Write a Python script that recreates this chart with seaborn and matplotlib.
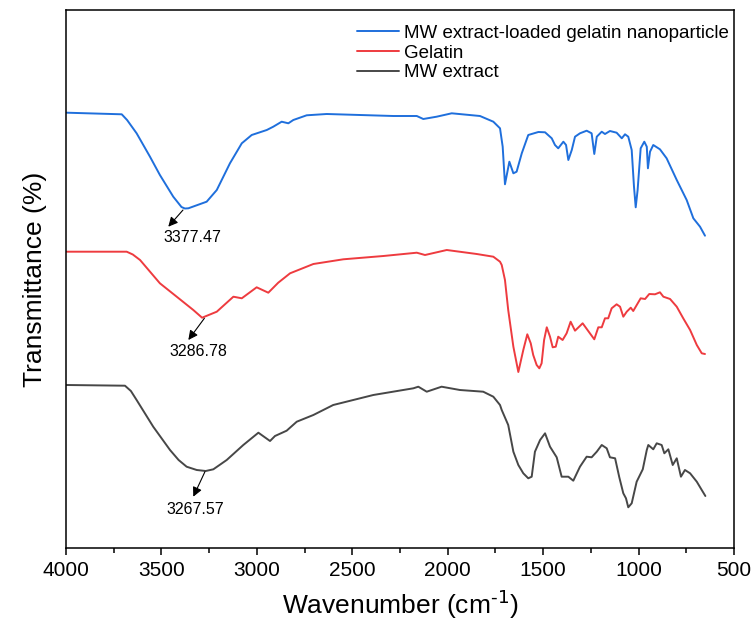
import matplotlib
matplotlib.use("Agg")
import matplotlib.pyplot as plt
import seaborn as sns
import pandas as pd

# FTIR spectra (wavenumber in cm-1, transmittance in offset arbitrary units)
nano_wn = [3996, 3708, 3680, 3630, 3560, 3508, 3438, 3395, 3377, 3359, 3263, 3210, 3141, 3079, 3027,
           2948, 2914, 2870, 2835, 2809, 2739, 2634, 2285, 2162, 2128, 2058, 1979, 1831, 1761,
           1726, 1712, 1700, 1677, 1656, 1639, 1612, 1578, 1525, 1490, 1455, 1438, 1421, 1394,
           1380, 1368, 1350, 1333, 1307, 1272, 1246, 1232, 1219, 1193, 1176, 1150, 1115, 1088,
           1071, 1054, 1036, 1024, 1015, 1005, 989, 970, 957, 951, 940, 923, 888, 853, 800,
           748, 713, 678, 652]
nano_t = [435.3, 433.7, 428.0, 414.7, 391.3, 373.0, 351.3, 341.0, 339.5, 339.7, 346.3, 358.0, 384.7,
          404.7, 413.0, 418.0, 421.3, 426.3, 424.7, 428.0, 432.7, 434.0, 432.0, 432.0, 429.0,
          431.3, 434.7, 432.0, 426.3, 419.7, 401.3, 363.7, 386.3, 374.7, 376.3, 394.7, 413.0,
          416.0, 415.7, 409.7, 403.0, 399.7, 406.3, 403.0, 388.0, 398.0, 411.3, 414.7, 417.3,
          414.7, 394.0, 411.3, 416.3, 414.0, 417.0, 415.3, 409.7, 413.7, 411.3, 398.0, 361.3,
          340.7, 358.0, 399.7, 406.3, 401.3, 379.7, 396.3, 403.0, 398.7, 389.7, 368.0, 348.0,
          329.7, 321.3, 312.3]

gel_wn = [3996, 3682, 3650, 3612, 3508, 3420, 3333, 3287, 3210, 3123, 3079, 3001, 2940, 2888, 2826,
          2704, 2547, 2337, 2162, 2119, 2005, 1848, 1761, 1726, 1717, 1700, 1683, 1656, 1630,
          1604, 1583, 1565, 1552, 1534, 1520, 1508, 1495, 1481, 1464, 1450, 1434, 1421, 1398,
          1377, 1356, 1333, 1293, 1255, 1232, 1211, 1193, 1176, 1159, 1141, 1115, 1097, 1080,
          1062, 1041, 1028, 989, 966, 944, 914, 888, 870, 835, 800, 766, 730, 695, 669, 652]
gel_t = [296.3, 296.3, 293.5, 288.0, 264.7, 251.3, 238.0, 230.3, 236.3, 251.3, 249.7, 260.7, 255.3,
         265.3, 274.7, 284.0, 288.7, 292.0, 295.3, 293.0, 298.0, 294.0, 291.3, 286.3, 283.0,
         268.0, 238.0, 201.3, 176.0, 198.0, 213.7, 204.7, 193.0, 183.0, 179.7, 184.7, 208.0,
         220.7, 211.3, 200.7, 201.3, 211.3, 208.0, 214.7, 226.3, 217.3, 224.7, 214.7, 208.7,
         220.7, 220.7, 229.7, 229.7, 239.7, 243.7, 241.3, 231.3, 236.3, 240.3, 237.0, 249.7,
         249.0, 254.0, 253.7, 255.7, 251.3, 249.0, 241.3, 229.7, 218.0, 203.0, 194.7, 194.0]

mw_wn = [3996, 3691, 3660, 3630, 3543, 3455, 3410, 3368, 3315, 3268, 3228, 3158, 3071, 2992, 2931, 2905,
         2844, 2791, 2704, 2600, 2390, 2180, 2154, 2110, 2032, 1936, 1814, 1761, 1726, 1717,
         1683, 1656, 1630, 1604, 1578, 1560, 1543, 1516, 1490, 1464, 1429, 1403, 1368, 1342,
         1307, 1272, 1246, 1219, 1193, 1167, 1150, 1123, 1101, 1080, 1066, 1054, 1036, 1010,
         978, 957, 949, 923, 905, 879, 865, 844, 821, 800, 778, 757, 730, 695, 669, 650]
mw_t = [163.0, 162.3, 157.0, 148.0, 121.3, 98.0, 88.0, 81.3, 78.0, 77.0, 78.7, 88.0, 103.0, 115.3, 107.0,
        112.0, 117.3, 126.3, 133.0, 143.0, 153.0, 159.7, 161.3, 156.3, 161.3, 158.0, 156.3,
        151.3, 143.0, 138.0, 123.0, 96.3, 83.0, 74.7, 69.7, 71.3, 96.3, 108.0, 114.7, 101.3,
        90.7, 71.3, 71.3, 67.3, 81.3, 91.3, 90.7, 96.3, 103.0, 99.7, 90.7, 89.7, 70.7, 54.7,
        49.7, 40.7, 44.7, 66.3, 78.7, 98.0, 103.0, 98.7, 104.7, 103.0, 94.7, 98.7, 83.0, 89.7,
        71.3, 78.0, 74.7, 66.3, 58.0, 52.0]

labels = ["MW extract-loaded gelatin nanoparticle", "Gelatin", "MW extract"]
colors = ["#1f6fdc", "#ee3b3f", "#474747"]

# peak annotations: label, peak point, arrow tip, text position
peaks = ["3377.47", "3286.78", "3267.57"]
peak_xy = [(3387, 338), (3275, 229.7), (3272, 76.3)]
tip_xy = [(3464, 321.3), (3359, 208), (3333, 51.3)]
text_xy = [(3337, 311), (3308, 196), (3324, 39)]

df = pd.concat([
    pd.DataFrame({"Wavenumber": nano_wn, "T": nano_t, "Sample": labels[0]}),
    pd.DataFrame({"Wavenumber": gel_wn, "T": gel_t, "Sample": labels[1]}),
    pd.DataFrame({"Wavenumber": mw_wn, "T": mw_t, "Sample": labels[2]}),
])

sns.set_style("white")
plt.rcParams["font.family"] = ["Liberation Sans", "DejaVu Sans"]
plt.rcParams["mathtext.default"] = "regular"
plt.rcParams["text.color"] = "black"
plt.rcParams["axes.labelcolor"] = "black"
plt.rcParams["xtick.color"] = "black"

fig = plt.figure(figsize=(7.53, 6.24), dpi=100)
ax = fig.add_axes([66 / 753, 76 / 624, 668 / 753, 538 / 624])

sns.lineplot(data=df, x="Wavenumber", y="T", hue="Sample", hue_order=labels,
             palette=colors, estimator=None, linewidth=1.4, ax=ax)

for lab, p, t, tx in zip(peaks, peak_xy, tip_xy, text_xy):
    ax.annotate("", xy=t, xytext=p,
                arrowprops=dict(arrowstyle="-|>", color="black", lw=0.8,
                                mutation_scale=14, shrinkA=0, shrinkB=0))
    ax.text(tx[0], tx[1], lab, ha="center", va="center", fontsize=11.5, color="black")

ax.set_xlim(4000, 500)
ax.set_ylim(0, 538)
ax.set_xticks(range(4000, 499, -500))
ax.set_xticks(range(3750, 500, -500), minor=True)
ax.set_yticks([])
ax.tick_params(axis="x", which="major", direction="out", length=5, width=1.1,
               labelsize=15, bottom=True, top=False, pad=4, colors="black")
ax.tick_params(axis="x", which="minor", direction="out", length=3.5, width=1.1,
               bottom=True, top=False, colors="black")
for s in ax.spines.values():
    s.set_visible(True)
    s.set_color("black")
    s.set_linewidth(1.1)

ax.set_xlabel(r"Wavenumber (cm$^{\text{-1}}$)", fontsize=19, labelpad=6)
ax.set_ylabel("Transmittance (%)", fontsize=19, labelpad=14)

ax.legend(loc="upper right", bbox_to_anchor=(1.004, 0.987), frameon=False, fontsize=13.5,
          handlelength=2.2, handletextpad=0.3, labelspacing=0.15, borderaxespad=0.1,
          borderpad=0.3)

plt.savefig("out.png", dpi=100)
